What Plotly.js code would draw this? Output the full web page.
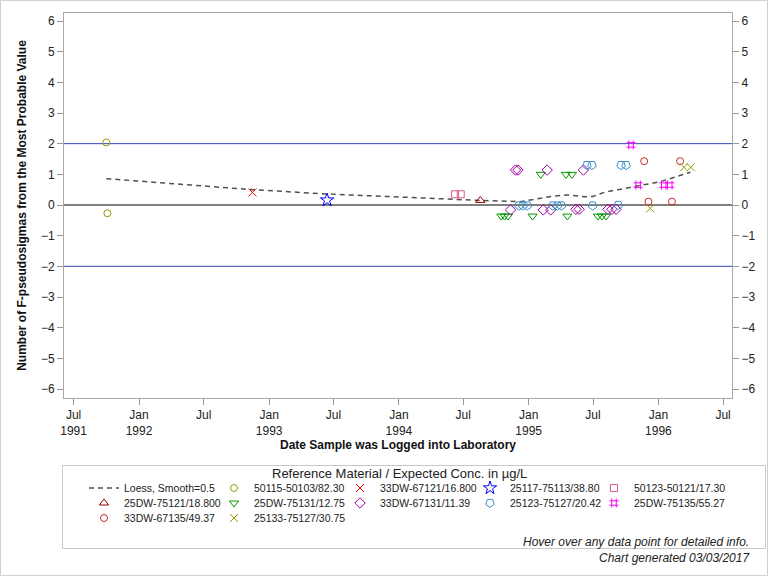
<!DOCTYPE html>
<html>
<head>
<meta charset="utf-8">
<script src="https://cdn.plot.ly/plotly-3.0.1.min.js"></script>
<style>
  html, body { margin: 0; padding: 0; background: #fff; }
  #chart { width: 768px; height: 576px; }
</style>
</head>
<body>
<div id="chart"></div>
<script>
// Loess fit (smooth = 0.5)
const loessDates = ['1991-10-01', '1992-11-15', '1993-06-13', '1994-03-02', '1994-08-18',
  '1994-12-08', '1995-03-10', '1995-04-22', '1995-06-09', '1995-07-01', '1995-08-04',
  '1995-09-09', '1995-10-19', '1996-01-06', '1996-03-31'];
const loessValues = [0.86, 0.50, 0.36, 0.22, 0.15, 0.11, 0.29, 0.33, 0.27, 0.28, 0.42,
  0.50, 0.58, 0.76, 1.07];

// Reference material samples: log date and F-pseudosigma score
const dates50115 = ['1991-10-01', '1991-10-04'];
const vals50115 = [2.04, -0.27];

const dates67121 = ['1992-11-15'];
const vals67121 = [0.41];

const dates75113 = ['1993-06-13'];
const vals75113 = [0.16];

const dates50121 = ['1994-06-08', '1994-06-24'];
const vals50121 = [0.35, 0.35];

const dates75121 = ['1994-08-18'];
const vals75121 = [0.15];

const dates75131 = ['1994-10-16', '1994-10-25', '1994-11-04', '1995-01-12', '1995-02-04',
  '1995-04-16', '1995-04-20', '1995-05-03', '1995-07-15', '1995-07-26', '1995-08-07'];
const vals75131 = [-0.36, -0.36, -0.36, -0.36, 1.00, 1.00, -0.36, 1.00, -0.36, -0.36, -0.36];

const dates67131 = ['1994-11-11', '1994-11-25', '1994-12-02', '1995-02-11', '1995-02-22',
  '1995-03-04', '1995-05-14', '1995-05-23', '1995-06-04', '1995-08-12', '1995-08-23', '1995-09-04'];
const vals67131 = [-0.16, 1.14, 1.14, -0.16, 1.14, -0.16, -0.14, -0.14, 1.14, -0.14, -0.14, -0.14];

const dates75127a = ['1994-12-05', '1994-12-16', '1994-12-28', '1995-03-10', '1995-03-23',
  '1995-04-03', '1995-06-14', '1995-06-28', '1995-06-30', '1995-09-10', '1995-09-18', '1995-10-02'];
const vals75127a = [-0.02, -0.02, -0.02, -0.02, -0.02, -0.02, 1.30, 1.30, -0.02, 0.00, 1.30, 1.30];

const dates75135 = ['1995-10-16', '1995-11-05', '1996-01-16', '1996-02-02'];
const vals75135 = [1.96, 0.65, 0.65, 0.65];

const dates67135 = ['1995-11-22', '1995-12-04', '1996-02-08', '1996-03-02'];
const vals67135 = [1.43, 0.11, 0.11, 1.43];

const dates75127b = ['1995-12-09', '1996-03-13', '1996-04-01'];
const vals75127b = [-0.11, 1.23, 1.23];

const seriesNames = ['50115-50103/82.30', '33DW-67121/16.800', '25117-75113/38.80',
  '50123-50121/17.30', '25DW-75121/18.800', '25DW-75131/12.75', '33DW-67131/11.39',
  '25123-75127/20.42', '25DW-75135/55.27', '33DW-67135/49.37', '25133-75127/30.75'];
const seriesDates = [dates50115, dates67121, dates75113, dates50121, dates75121, dates75131,
  dates67131, dates75127a, dates75135, dates67135, dates75127b];
const seriesValues = [vals50115, vals67121, vals75113, vals50121, vals75121, vals75131,
  vals67131, vals75127a, vals75135, vals67135, vals75127b];

// Marker styling per series
const seriesColors = ['#999900', '#ff0000', '#0000ff', '#e2598b', '#990000', '#009900',
  '#a000a0', '#3d8ec9', '#ff00ff', '#c42b2b', '#999900'];
const seriesSymbols = ['circle-open', 'x-thin-open', 'star-open', 'square-open',
  'triangle-up-open', 'triangle-down-open', 'diamond-open', 'pentagon-open', 'hash-open',
  'circle-open', 'x-thin-open'];
const seriesSizes = [7, 8, 10, 7, 8, 8, 8, 9, 9, 7, 8];
const seriesAngles = [0, 0, 0, 0, 0, 0, 0, 180, 0, 0, 0];

const FONT = 'Liberation Sans, Arial, Helvetica, sans-serif';

// pixel -> paper helpers for the 668 x 385 plot area at (64, 13)
const px = v => (v - 64) / 668;
const py = v => (398 - v) / 385;

// Key layout: 5 columns x 3 rows, one small legend per entry
const keyColLeft = [84, 214, 340, 470, 594];
const keyRowMid = [488, 503, 518];
const keyCols = 5;

const traces = [{
  type: 'scatter', mode: 'lines', name: 'Loess, Smooth=0.5',
  x: loessDates, y: loessValues,
  line: { color: '#505050', width: 1.5, dash: '5px,4px' },
  hoverinfo: 'skip', legend: 'legend'
}];

seriesNames.forEach((name, i) => {
  traces.push({
    type: 'scatter', mode: 'markers', name: name,
    x: seriesDates[i], y: seriesValues[i],
    marker: {
      symbol: seriesSymbols[i], size: seriesSizes[i], color: seriesColors[i],
      angle: seriesAngles[i], line: { width: 1, color: seriesColors[i] }
    },
    hovertemplate: name + '<br>%{x|%m/%d/%Y}<br>%{y:.2f}<extra></extra>',
    legend: 'legend' + (i + 2)
  });
});

// Empty trace so the right-hand value axis is drawn
traces.push({ type: 'scatter', x: [], y: [], yaxis: 'y2', showlegend: false, hoverinfo: 'skip' });

const yRange = [-6.293, 6.261];

const layout = {
  width: 768, height: 576,
  margin: { l: 64, r: 36, t: 13, b: 178, pad: 0 },
  paper_bgcolor: '#ffffff', plot_bgcolor: '#ffffff',
  font: { family: FONT, size: 12, color: '#222222' },
  showlegend: true,
  hovermode: 'closest',
  xaxis: {
    type: 'date',
    range: ['1991-06-04', '1996-07-26'],
    tick0: '1991-07-01', dtick: 'M6', tickformat: '%b\n%Y',
    ticks: 'outside', ticklen: 6, tickcolor: '#9a9a9a',
    showline: true, mirror: true, linecolor: '#a8a8a8', linewidth: 1,
    showgrid: false, zeroline: false,
    tickfont: { family: FONT, size: 12, color: '#222222' },
    title: { text: '<b>Date Sample was Logged into Laboratory</b>', standoff: 0,
      font: { family: FONT, size: 12, color: '#111111' } }
  },
  yaxis: {
    range: yRange, dtick: 1, tick0: 0,
    ticks: 'outside', ticklen: 6, tickcolor: '#9a9a9a',
    showline: true, mirror: true, linecolor: '#a8a8a8', linewidth: 1,
    showgrid: false, zeroline: false,
    tickfont: { family: FONT, size: 12, color: '#222222' },
    title: { text: '<b>Number of F-pseudosigmas from the Most Probable Value</b>', standoff: 11,
      font: { family: FONT, size: 12, color: '#111111' } }
  },
  yaxis2: {
    overlaying: 'y', side: 'right', anchor: 'x',
    range: yRange, dtick: 1, tick0: 0,
    ticks: 'outside', ticklen: 6, tickcolor: '#9a9a9a',
    showline: false, showgrid: false, zeroline: false,
    tickfont: { family: FONT, size: 12, color: '#222222' }
  },
  shapes: [
    { type: 'line', xref: 'paper', x0: 0, x1: 1, yref: 'y', y0: 0, y1: 0,
      line: { color: '#000000', width: 1 }, layer: 'below' },
    { type: 'line', xref: 'paper', x0: 0, x1: 1, yref: 'y', y0: 2, y1: 2,
      line: { color: '#3a44bb', width: 1 }, layer: 'below' },
    { type: 'line', xref: 'paper', x0: 0, x1: 1, yref: 'y', y0: -2, y1: -2,
      line: { color: '#3a44bb', width: 1 }, layer: 'below' },
    // key frame
    { type: 'rect', xref: 'paper', yref: 'paper',
      x0: px(62.5), x1: px(765.5), y0: py(548.5), y1: py(465.5),
      line: { color: '#c8c8c8', width: 1 }, fillcolor: 'rgba(0,0,0,0)' },
    // outer frame
    { type: 'rect', xref: 'paper', yref: 'paper',
      x0: px(0.5), x1: px(767.5), y0: py(575.5), y1: py(0.5),
      line: { color: '#d0d0d0', width: 1 }, fillcolor: 'rgba(0,0,0,0)' }
  ],
  annotations: [
    {
      xref: 'paper', yref: 'paper', x: px(399), y: py(473),
      xanchor: 'center', yanchor: 'middle', showarrow: false,
      text: 'Reference Material / Expected Conc. in µg/L',
      font: { family: FONT, size: 13, color: '#222222' }
    },
    {
      xref: 'paper', yref: 'paper', x: px(752), y: py(533),
      xanchor: 'right', yanchor: 'top', align: 'right', showarrow: false,
      text: '<i>Hover over any data point for detailed info.</i><br><i>Chart generated 03/03/2017</i>',
      font: { family: FONT, size: 12, color: '#222222' }
    }
  ]
};

// one legend box per key entry, laid out on the column/row grid
for (let k = 0; k < seriesNames.length + 1; k++) {
  const key = k === 0 ? 'legend' : 'legend' + (k + 1);
  layout[key] = {
    orientation: 'v',
    x: px(keyColLeft[k % keyCols]), xanchor: 'left',
    y: py(keyRowMid[Math.floor(k / keyCols)]), yanchor: 'middle',
    borderwidth: 0, bgcolor: 'rgba(255,255,255,0)',
    font: { family: FONT, size: 10.5, color: '#222222' }
  };
}

Plotly.newPlot('chart', traces, layout, { displayModeBar: false, responsive: false });
</script>
</body>
</html>
